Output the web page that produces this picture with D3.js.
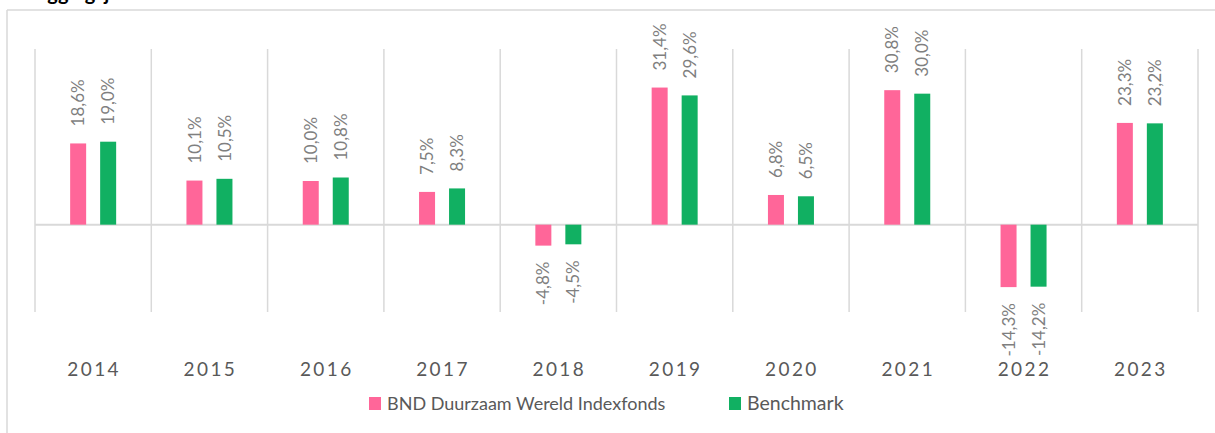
<!DOCTYPE html>
<html>
<head>
<meta charset="utf-8">
<script src="https://cdn.jsdelivr.net/npm/d3@7"></script>
<style>
  body { margin: 0; background: #fff; }
  svg { display: block; font-family: Lato, "Open Sans", sans-serif; }
</style>
</head>
<body>
<svg id="chart" width="1215" height="433"></svg>
<script>
// data
var years = ["2014", "2015", "2016", "2017", "2018", "2019", "2020", "2021", "2022", "2023"];
var fundValues = [18.6, 10.1, 10.0, 7.5, -4.8, 31.4, 6.8, 30.8, -14.3, 23.3];
var benchValues = [19.0, 10.5, 10.8, 8.3, -4.5, 29.6, 6.5, 30.0, -14.2, 23.2];
var seriesNames = ["BND Duurzaam Wereld Indexfonds", "Benchmark"];
var seriesColors = ["#ff6699", "#11b062"];

var svg = d3.select("#chart");
var gridColor = "#d9d9d9";

// frame of the (cropped) chart area
svg.append("line").attr("x1", 7).attr("x2", 1215).attr("y1", 10).attr("y2", 10)
	.style("stroke", gridColor).style("stroke-width", 1.5);
svg.append("line").attr("x1", 7).attr("x2", 7).attr("y1", 10).attr("y2", 433)
	.style("stroke", gridColor).style("stroke-width", 1.5);

// title, cut off at the top like in the picture
svg.append("text").attr("x", 8).attr("y", 0)
	.style("font-weight", "bold").style("font-size", "20px").style("fill", "#000")
	.text("Beleggingsjaar");

var x = d3.scaleBand().domain(years).range([35, 1198]).padding(0);
var y = d3.scaleLinear().domain([-20, 40]).range([312, 50]);

var barWidth = 16, offset = 15;

// vertical separators
var edges = years.map(function(d) { return x(d); }).concat([x.range()[1]]);
svg.append("g").selectAll("line")
	.data(edges)
	.enter()
	.append("line")
	.attr("x1", function(d) { return d; })
	.attr("x2", function(d) { return d; })
	.attr("y1", y(40) - 1)
	.attr("y2", y(-20))
	.style("stroke", gridColor)
	.style("stroke-width", 1.5);

// zero line
svg.append("line")
	.attr("x1", x.range()[0]).attr("x2", x.range()[1])
	.attr("y1", y(0)).attr("y2", y(0))
	.style("stroke", gridColor).style("stroke-width", 2);

var fmt = function(v) { return d3.format(".1f")(v).replace(".", ",").replace("\u2212", "-") + "%"; };

var series = [fundValues, benchValues];
series.forEach(function(vals, s)
{
	var dx = s === 0 ? -offset : offset;
	var g = svg.append("g");
	var rows = years.map(function(d, i) { return { year: d, value: vals[i] }; });

	g.selectAll("rect")
		.data(rows)
		.enter()
		.append("rect")
		.attr("x", function(d) { return x(d.year) + x.bandwidth() / 2 + dx - barWidth / 2; })
		.attr("width", barWidth)
		.attr("y", function(d) { return Math.min(y(d.value), y(0)); })
		.attr("height", function(d) { return Math.abs(y(d.value) - y(0)); })
		.style("fill", seriesColors[s]);

	g.selectAll("text")
		.data(rows)
		.enter()
		.append("text")
		.attr("transform", function(d)
		{
			var cx = x(d.year) + x.bandwidth() / 2 + dx;
			var cy = d.value >= 0 ? y(d.value) - 17 : y(d.value) + 16;
			return "translate(" + cx + "," + cy + ") rotate(-90)";
		})
		.attr("dy", "0.36em")
		.style("text-anchor", function(d) { return d.value >= 0 ? "start" : "end"; })
		.style("font-size", "17px")
		.style("fill", "#7f7f7f")
		.text(function(d) { return fmt(d.value); });
});

// category labels
svg.append("g").selectAll("text")
	.data(years)
	.enter()
	.append("text")
	.attr("x", function(d) { return x(d) + x.bandwidth() / 2 + 1; })
	.attr("y", 376)
	.style("text-anchor", "middle")
	.style("font-size", "19px")
	.style("letter-spacing", "2.4px")
	.style("fill", "#595959")
	.text(function(d) { return d; });

// legend
var legendX = [369, 729];
var legend = svg.append("g").selectAll(".legend")
	.data(seriesNames)
	.enter()
	.append("g")
	.attr("class", "legend")
	.attr("transform", function(d, i) { return "translate(" + legendX[i] + ",397)"; });

legend.append("rect")
	.attr("width", 12)
	.attr("height", 13)
	.style("fill", function(d, i) { return seriesColors[i]; });

legend.append("text")
	.attr("x", 18)
	.attr("y", 13)
	.style("font-size", function(d, i) { return i === 0 ? "18px" : "19.5px"; })
	.style("fill", "#595959")
	.text(function(d) { return d; });
</script>
</body>
</html>
